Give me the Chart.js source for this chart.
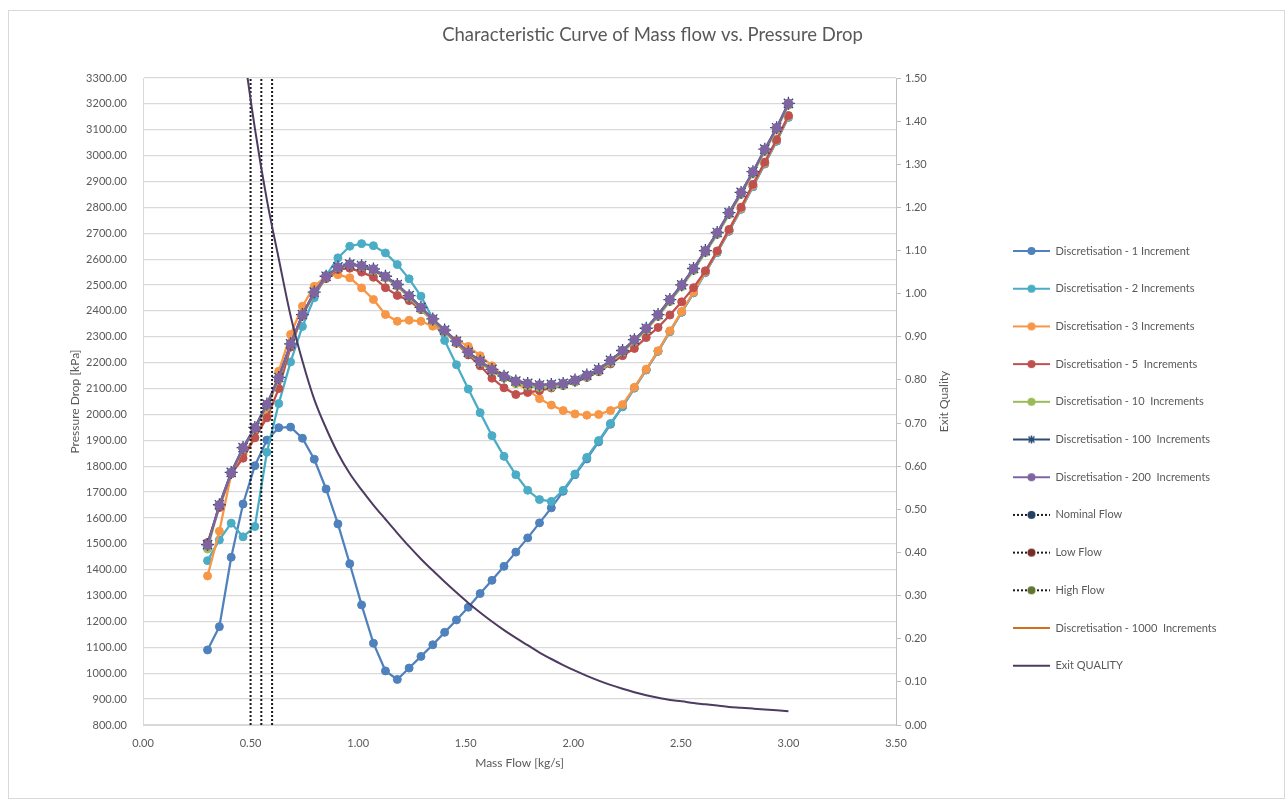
<!DOCTYPE html>
<html>
<head>
<meta charset="utf-8">
<title>Characteristic Curve of Mass flow vs. Pressure Drop</title>
<script src="https://cdn.jsdelivr.net/npm/chart.js@4.4.1/dist/chart.umd.min.js"></script>
<style>
    html, body { margin: 0; padding: 0; background: #ffffff; }
    #marco { position: absolute; left: 8px; top: 10px; width: 1275px; height: 787px; border: 1px solid #d9d9d9; }
    #contenedor { position: absolute; left: 0; top: 0; width: 1285px; height: 799px; }
</style>
</head>
<body>
<div id="marco"></div>
<div id="contenedor"><canvas id="curvaChart" width="1285" height="799"></canvas></div>
<script>
// =========================================================
// Curva característica: caudal másico vs. caída de presión
// =========================================================

// --- 1. Datos ---
const caudalMasico = [0.300, 0.355, 0.410, 0.465, 0.520, 0.576, 0.631, 0.686, 0.741, 0.796,
    0.851, 0.906, 0.961, 1.016, 1.071, 1.127, 1.182, 1.237, 1.292, 1.347,
    1.402, 1.457, 1.512, 1.567, 1.622, 1.678, 1.733, 1.788, 1.843, 1.898,
    1.953, 2.008, 2.063, 2.118, 2.173, 2.229, 2.284, 2.339, 2.394, 2.449,
    2.504, 2.559, 2.614, 2.669, 2.724, 2.780, 2.835, 2.890, 2.945, 3.000];

const incremento1 = [1090, 1180, 1448, 1654, 1802, 1901, 1949, 1951, 1908, 1827,
    1712, 1577, 1423, 1264, 1116, 1009, 976, 1020, 1065, 1110,
    1158, 1206, 1255, 1308, 1359, 1413, 1468, 1523, 1581, 1639,
    1703, 1767, 1828, 1894, 1962, 2030, 2102, 2172, 2244, 2320,
    2395, 2470, 2548, 2626, 2708, 2793, 2880, 2968, 3056, 3148];

const incrementos2 = [1435, 1515, 1580, 1527, 1567, 1854, 2042, 2203, 2340, 2451,
    2537, 2605, 2650, 2660, 2652, 2624, 2579, 2524, 2457, 2370,
    2286, 2192, 2098, 2007, 1918, 1838, 1767, 1707, 1671, 1664,
    1707, 1770, 1834, 1899, 1965, 2030, 2102, 2172, 2244, 2320,
    2395, 2470, 2548, 2626, 2708, 2793, 2880, 2968, 3056, 3148];

const incrementos3 = [1376, 1549, 1770, 1845, 1910, 2005, 2167, 2309, 2418, 2495,
    2534, 2540, 2528, 2489, 2444, 2386, 2360, 2364, 2360, 2341,
    2320, 2288, 2263, 2227, 2188, 2147, 2119, 2096, 2061, 2036,
    2015, 2002, 1997, 2000, 2015, 2038, 2105, 2175, 2246, 2323,
    2398, 2473, 2552, 2630, 2712, 2797, 2885, 2972, 3060, 3152];

const incrementos5 = [1505, 1640, 1770, 1831, 1910, 1987, 2100, 2260, 2380, 2468,
    2525, 2560, 2565, 2550, 2530, 2490, 2460, 2440, 2405, 2362,
    2320, 2275, 2230, 2188, 2140, 2103, 2077, 2085, 2092, 2102,
    2112, 2125, 2143, 2165, 2195, 2227, 2255, 2297, 2336, 2384,
    2435, 2490, 2555, 2632, 2715, 2801, 2889, 2975, 3062, 3155];

const incrementos10 = [1480, 1648, 1772, 1866, 1944, 2030, 2136, 2268, 2382, 2470,
    2530, 2566, 2577, 2570, 2556, 2527, 2495, 2452, 2407, 2363,
    2320, 2278, 2236, 2200, 2167, 2140, 2120, 2110, 2104, 2106,
    2111, 2125, 2145, 2167, 2200, 2240, 2282, 2326, 2378, 2436,
    2493, 2556, 2625, 2695, 2772, 2850, 2930, 3016, 3100, 3195];

const incrementos100 = [1497, 1651, 1776, 1872, 1950, 2040, 2143, 2273, 2386, 2473,
    2534, 2570, 2581, 2575, 2562, 2534, 2502, 2459, 2414, 2369,
    2326, 2283, 2241, 2206, 2174, 2148, 2129, 2120, 2114, 2116,
    2120, 2133, 2152, 2174, 2209, 2247, 2289, 2333, 2386, 2444,
    2501, 2564, 2633, 2703, 2780, 2858, 2938, 3025, 3108, 3202];

const incrementos200 = [1495, 1650, 1775, 1871, 1948, 2038, 2141, 2272, 2385, 2472,
    2533, 2569, 2580, 2574, 2561, 2533, 2501, 2458, 2413, 2368,
    2325, 2282, 2240, 2205, 2173, 2147, 2128, 2119, 2113, 2115,
    2119, 2132, 2151, 2173, 2208, 2246, 2288, 2332, 2385, 2443,
    2500, 2563, 2632, 2702, 2779, 2857, 2937, 3024, 3107, 3201];

// La serie de 1000 incrementos solo aparece en la leyenda
const incrementos1000 = [];

const calidadSalida = [2.45, 2.10, 1.82, 1.58, 1.383, 1.217, 1.081, 0.949, 0.844, 0.755,
    0.688, 0.630, 0.583, 0.545, 0.510, 0.477, 0.445, 0.414, 0.385, 0.358,
    0.332, 0.307, 0.283, 0.261, 0.240, 0.220, 0.202, 0.185, 0.168, 0.153,
    0.139, 0.126, 0.114, 0.103, 0.093, 0.084, 0.076, 0.069, 0.063, 0.058,
    0.055, 0.051, 0.048, 0.045, 0.042, 0.040, 0.038, 0.036, 0.034, 0.032];

// Líneas verticales de operación (caudal) de 800 a 3300 kPa
const flujoNominal = [0.55, 0.55];
const flujoBajo = [0.50, 0.50];
const flujoAlto = [0.60, 0.60];
const presionLinea = [800, 3300];

const nombresSeries = [
    'Discretisation - 1 Increment',
    'Discretisation - 2 Increments',
    'Discretisation - 3 Increments',
    'Discretisation - 5  Increments',
    'Discretisation - 10  Increments',
    'Discretisation - 100  Increments',
    'Discretisation - 200  Increments',
    'Nominal Flow',
    'Low Flow',
    'High Flow',
    'Discretisation - 1000  Increments',
    'Exit QUALITY'
];

// --- 2. Utilidades ---
const aPuntos = (xs, ys) => ys.map((y, i) => ({ x: xs[i], y: y }));

// Icono de leyenda estilo Excel: línea con marcador en el centro
function crearIcono(colorLinea, punteada, marcador, colorMarcador) {
    const c = document.createElement('canvas');
    c.width = 37;
    c.height = 14;
    const g = c.getContext('2d');
    g.strokeStyle = colorLinea;
    g.lineWidth = 2;
    if (punteada) g.setLineDash([2, 2]);
    g.beginPath();
    g.moveTo(0, 7);
    g.lineTo(37, 7);
    g.stroke();
    g.setLineDash([]);
    if (marcador === 'circulo') {
        g.fillStyle = colorMarcador;
        g.beginPath();
        g.arc(18.5, 7, 4, 0, Math.PI * 2);
        g.fill();
    } else if (marcador === 'estrella') {
        g.strokeStyle = colorMarcador;
        g.lineWidth = 1.5;
        g.beginPath();
        g.moveTo(18.5, 3); g.lineTo(18.5, 11);
        g.moveTo(15.5, 4); g.lineTo(21.5, 10);
        g.moveTo(21.5, 4); g.lineTo(15.5, 10);
        g.stroke();
    }
    return c;
}

function serieDiscreta(etiqueta, datos, color, orden) {
    return {
        label: etiqueta,
        data: aPuntos(caudalMasico, datos),
        borderColor: color,
        backgroundColor: color,
        pointBackgroundColor: color,
        pointBorderColor: color,
        borderWidth: 2.25,
        pointRadius: 4,
        pointBorderWidth: 1,
        tension: 0,
        yAxisID: 'y',
        order: orden
    };
}

function lineaFlujo(etiqueta, xs) {
    return {
        label: etiqueta,
        data: aPuntos(xs, presionLinea),
        borderColor: '#1a1a1a',
        backgroundColor: '#1a1a1a',
        borderWidth: 2,
        borderDash: [2, 2],
        pointRadius: 0,
        yAxisID: 'y',
        order: 4
    };
}

// --- 3. Colores ---
const colores = {
    inc1: '#4F81BD', inc2: '#4BACC6', inc3: '#F79646', inc5: '#C0504D',
    inc10: '#9BBB59', inc100: '#2C4D75', inc200: '#8064A2', inc1000: '#D0701E',
    calidad: '#4D3B62', nominal: '#254061', bajo: '#772C2A', alto: '#5F7530'
};

const iconos = [
    crearIcono(colores.inc1, false, 'circulo', colores.inc1),
    crearIcono(colores.inc2, false, 'circulo', colores.inc2),
    crearIcono(colores.inc3, false, 'circulo', colores.inc3),
    crearIcono(colores.inc5, false, 'circulo', colores.inc5),
    crearIcono(colores.inc10, false, 'circulo', colores.inc10),
    crearIcono(colores.inc100, false, 'estrella', colores.inc100),
    crearIcono(colores.inc200, false, 'circulo', colores.inc200),
    crearIcono('#1a1a1a', true, 'circulo', colores.nominal),
    crearIcono('#1a1a1a', true, 'circulo', colores.bajo),
    crearIcono('#1a1a1a', true, 'circulo', colores.alto),
    crearIcono(colores.inc1000, false, null, null),
    crearIcono(colores.calidad, false, null, null)
];

// --- 4. Posiciones del área de trazado (como en la hoja original) ---
const ANCHO = 1285, ALTO = 799;
const AREA_IZQ = 143, AREA_DER = 896, AREA_INF = 725;
const LEYENDA_IZQ = 986.3;
const FUENTE = 'Lato';

const medidor = document.createElement('canvas').getContext('2d');
medidor.font = 'normal 11px ' + FUENTE;
const anchoTexto = Math.max(...nombresSeries.map(t => medidor.measureText(t).width));
const anchoLeyenda = 26.7 + 37 + 5.5 + anchoTexto + 10;
const padDer = Math.max(0, ANCHO - LEYENDA_IZQ - anchoLeyenda);
// el título del gráfico queda centrado en x = 652.5
const padIzq = Math.min(110, padDer + 20);

Chart.defaults.font.family = FUENTE;
Chart.defaults.color = '#595959';

// Título del eje derecho (Excel lo escribe de abajo hacia arriba)
const tituloEjeDerecho = {
    id: 'tituloEjeDerecho',
    afterDraw(chart) {
        const { ctx, chartArea } = chart;
        ctx.save();
        ctx.translate(chartArea.right + 48, (chartArea.top + chartArea.bottom) / 2);
        ctx.rotate(-Math.PI / 2);
        ctx.font = 'normal 12px ' + FUENTE;
        ctx.fillStyle = '#595959';
        ctx.textAlign = 'center';
        ctx.textBaseline = 'middle';
        ctx.fillText('Exit Quality', 0, 0);
        ctx.restore();
    }
};

// --- 5. Gráfico ---
const ctx = document.getElementById('curvaChart');
new Chart(ctx, {
    type: 'line',
    data: {
        datasets: [
            serieDiscreta(nombresSeries[0], incremento1, colores.inc1, 11),
            serieDiscreta(nombresSeries[1], incrementos2, colores.inc2, 10),
            serieDiscreta(nombresSeries[2], incrementos3, colores.inc3, 9),
            serieDiscreta(nombresSeries[3], incrementos5, colores.inc5, 8),
            serieDiscreta(nombresSeries[4], incrementos10, colores.inc10, 7),
            Object.assign(serieDiscreta(nombresSeries[5], incrementos100, colores.inc100, 6), {
                pointStyle: 'star', pointRadius: 6.5, pointBorderWidth: 1.3
            }),
            Object.assign(serieDiscreta(nombresSeries[6], incrementos200, colores.inc200, 5), {
                pointRadius: 4.5
            }),
            lineaFlujo(nombresSeries[7], flujoNominal),
            lineaFlujo(nombresSeries[8], flujoBajo),
            lineaFlujo(nombresSeries[9], flujoAlto),
            {
                label: nombresSeries[10],
                data: aPuntos(caudalMasico, incrementos1000),
                borderColor: colores.inc1000,
                backgroundColor: colores.inc1000,
                borderWidth: 2.25,
                pointRadius: 0,
                yAxisID: 'y',
                order: 1
            },
            {
                label: nombresSeries[11],
                data: aPuntos(caudalMasico, calidadSalida),
                borderColor: colores.calidad,
                backgroundColor: colores.calidad,
                borderWidth: 2,
                pointRadius: 0,
                cubicInterpolationMode: 'monotone',
                yAxisID: 'y1',
                order: 0
            }
        ]
    },
    options: {
        responsive: false,
        animation: false,
        layout: { padding: { left: padIzq, right: padDer, top: 0, bottom: 0 } },
        plugins: {
            tooltip: { enabled: false },
            title: {
                display: true,
                text: 'Characteristic Curve of Mass flow vs. Pressure Drop',
                color: '#595959',
                font: { size: 18.5, weight: 'normal' },
                padding: { top: 23.9, bottom: 31.9 }
            },
            legend: {
                position: 'right',
                align: 'start',
                maxWidth: 600,
                title: { display: true, text: '', font: { size: 10 }, padding: { top: 206.8, bottom: 0 } },
                labels: {
                    usePointStyle: true,
                    pointStyleWidth: 37,
                    padding: 26.7,
                    color: '#595959',
                    font: { size: 11 },
                    sort: (a, b) => a.datasetIndex - b.datasetIndex,
                    generateLabels(chart) {
                        const items = Chart.defaults.plugins.legend.labels.generateLabels(chart);
                        items.forEach(it => {
                            it.pointStyle = iconos[it.datasetIndex];
                            it.fontColor = '#595959';
                        });
                        return items;
                    }
                }
            }
        },
        scales: {
            x: {
                type: 'linear',
                min: 0,
                max: 3.5,
                ticks: { stepSize: 0.5, padding: 12, font: { size: 11 }, callback: v => v.toFixed(2) },
                grid: { display: false, drawTicks: false },
                border: { display: true, color: '#d9d9d9', width: 1 },
                title: { display: true, text: 'Mass Flow [kg/s]', font: { size: 12 }, padding: { top: 0, bottom: 28.8 } },
                afterFit: s => { s.height = ALTO - AREA_INF; }
            },
            y: {
                position: 'left',
                min: 800,
                max: 3300,
                ticks: { stepSize: 100, padding: 16, font: { size: 11 }, callback: v => v.toFixed(2) },
                grid: { color: '#d9d9d9', lineWidth: 1.3, drawTicks: false },
                border: { display: true, color: '#d9d9d9' },
                // el relleno puede ser negativo: coloca el título en x = 75
                title: { display: true, text: 'Pressure Drop [kPa]', font: { size: 12 }, padding: { top: 75 - padIzq - 7.2, bottom: 0 } },
                afterFit: s => { s.width = AREA_IZQ - padIzq; }
            },
            y1: {
                position: 'right',
                min: 0,
                max: 1.5,
                ticks: { stepSize: 0.1, padding: 4, font: { size: 11 }, callback: v => v.toFixed(2) },
                grid: { drawOnChartArea: false, drawTicks: true, tickLength: 5, color: '#bfbfbf' },
                border: { display: true, color: '#bfbfbf' },
                afterFit: s => { s.width = LEYENDA_IZQ - AREA_DER; }
            }
        }
    },
    plugins: [tituloEjeDerecho]
});
</script>
</body>
</html>
